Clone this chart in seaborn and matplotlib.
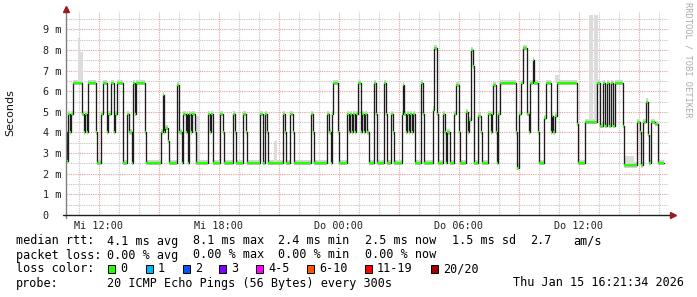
import numpy as np
import pandas as pd
import matplotlib
matplotlib.use("Agg")
import matplotlib.pyplot as plt
import seaborn as sns
from matplotlib.patches import Rectangle
from matplotlib.ticker import FixedLocator, MultipleLocator, FuncFormatter

# ---- data (hours since Wed 00:00, median RTT in ms) ----
seg_start_h = [10.35, 10.40, 10.45, 10.55, 10.60, 10.70, 11.15, 11.25, 11.30, 11.40,
               11.45, 11.85, 11.90, 12.10, 12.20, 12.40, 12.45, 12.60, 12.75, 12.80,
               12.90, 13.20, 13.40, 13.50, 13.65, 13.70, 13.80, 13.85, 14.30, 14.35,
               15.10, 15.20, 15.25, 15.30, 15.45, 15.50, 15.90, 16.00, 16.15, 16.20,
               16.35, 16.40, 16.45, 16.50, 16.60, 16.65, 16.80, 16.85, 17.45, 17.55,
               17.60, 17.70, 18.05, 18.20, 18.25, 18.70, 18.80, 18.85, 19.20, 19.35,
               19.40, 20.05, 20.20, 20.30, 20.40, 20.45, 21.20, 21.30, 21.35, 21.55,
               21.70, 21.75, 22.60, 22.70, 22.75, 23.40, 23.50, 23.60, 23.65, 23.70,
               23.95, 24.00, 24.40, 24.50, 24.55, 24.65, 24.70, 24.80, 24.85, 24.95,
               25.10, 25.15, 25.25, 25.30, 25.40, 25.50, 25.75, 25.85, 25.90, 26.25,
               26.35, 26.40, 26.60, 26.70, 26.75, 27.15, 27.20, 27.25, 27.35, 27.40,
               27.50, 27.55, 27.65, 27.70, 27.80, 28.10, 28.20, 28.25, 28.70, 28.75,
               28.90, 28.95, 29.20, 29.30, 29.35, 29.40, 29.55, 29.75, 29.85, 30.00,
               30.05, 30.35, 30.45, 30.50, 30.60, 30.70, 30.75, 30.95, 31.10, 31.15,
               31.45, 31.60, 31.65, 31.70, 31.85, 31.90, 31.95, 32.05, 32.85, 32.90,
               33.00, 33.10, 33.20, 33.40, 33.50, 33.55, 33.70, 33.75, 33.95, 34.00,
               34.25, 34.35, 34.60, 34.65, 34.70, 34.80, 34.90, 35.90, 35.95, 36.30,
               36.90, 37.05, 37.20, 37.30, 37.40, 37.50, 37.60, 37.70, 37.80, 38.20,
               38.25, 38.90, 39.05, 39.10, 39.20, 39.35, 39.45, 39.50, 39.60, 39.80,
               39.95]
seg_median_ms = [4.0, 2.6, 4.9, 4.0, 4.9, 6.4, 4.9, 4.0, 4.9, 4.0,
                 6.4, 4.0, 2.5, 4.9, 6.4, 4.0, 4.9, 6.4, 4.0, 4.9,
                 6.4, 2.5, 4.9, 4.0, 2.5, 6.4, 4.9, 6.4, 4.0, 2.5,
                 4.0, 5.8, 4.0, 4.2, 3.6, 2.5, 6.3, 4.0, 2.5, 4.9,
                 4.0, 4.9, 2.5, 4.9, 4.0, 4.9, 4.0, 2.5, 4.9, 4.0,
                 4.9, 2.5, 4.9, 4.0, 2.5, 4.9, 4.0, 2.5, 4.9, 4.0,
                 2.5, 4.9, 2.5, 4.9, 4.0, 2.5, 4.9, 4.0, 2.5, 4.9,
                 4.0, 2.5, 4.9, 4.0, 2.5, 4.9, 4.0, 2.5, 4.9, 6.4,
                 4.0, 2.5, 4.9, 4.0, 4.9, 4.0, 4.9, 4.0, 4.9, 6.4,
                 4.0, 4.9, 4.0, 4.9, 4.0, 2.5, 6.4, 4.9, 2.5, 6.4,
                 4.9, 2.5, 4.9, 4.0, 2.5, 4.9, 6.3, 4.9, 4.0, 4.9,
                 4.0, 4.9, 4.0, 4.9, 2.5, 6.4, 4.9, 2.5, 5.1, 8.1,
                 4.9, 2.5, 4.9, 4.0, 2.5, 4.0, 2.5, 4.9, 6.3, 4.0,
                 2.5, 5.0, 4.0, 4.6, 8.0, 7.2, 2.5, 4.8, 4.0, 2.5,
                 4.9, 4.0, 4.9, 6.3, 4.0, 2.5, 4.9, 6.4, 4.0, 2.3,
                 4.9, 6.4, 8.1, 4.9, 4.0, 6.4, 7.5, 6.4, 4.0, 2.5,
                 4.7, 6.4, 4.0, 4.8, 4.0, 4.8, 6.4, 4.4, 2.5, 4.5,
                 6.4, 4.3, 6.4, 4.3, 6.4, 4.3, 6.4, 4.3, 6.4, 4.3,
                 2.4, 4.5, 4.0, 2.4, 4.5, 5.5, 3.9, 2.5, 4.5, 4.4,
                 2.5]
series_end_h = 40.25

smoke_spike_start = [10.95, 11.07, 16.85, 20.75, 34.80, 36.50, 36.75, 38.25]
smoke_spike_end = [11.07, 11.20, 17.00, 20.90, 35.00, 36.70, 36.95, 38.75]
smoke_spike_top = [8.6, 7.9, 4.8, 3.6, 6.8, 9.7, 9.7, 2.85]
smoke_spike_base = [6.4, 6.4, 2.5, 2.5, 6.4, 4.5, 4.5, 2.4]

tick_hours = [12, 18, 24, 30, 36]
tick_labels = ["Mi 12:00", "Mi 18:00", "Do 00:00", "Do 06:00", "Do 12:00"]
ytick_vals = [0, 1, 2, 3, 4, 5, 6, 7, 8, 9]
ytick_labels = ["0", "1 m", "2 m", "3 m", "4 m", "5 m", "6 m", "7 m", "8 m", "9 m"]

rtt_labels = ["4.1 ms avg", "8.1 ms max", "2.4 ms min", "2.5 ms now", "1.5 ms sd", "2.7", "am/s"]
loss_labels = ["0.00 % avg", "0.00 % max", "0.00 % min", "0.00 % now"]
loss_color_names = ["0", "1", "2", "3", "4-5", "6-10", "11-19", "20/20"]
loss_color_values = ["#26ff00", "#00b8ff", "#0059ff", "#7e00ff", "#ff00ff", "#ff5500", "#ff0000", "#a10000"]
probe_text = "20 ICMP Echo Pings (56 Bytes) every 300s"
stamp_text = "Thu Jan 15 16:21:34 2026"

# ---- figure ----
sns.set_theme(style="white")
plt.rcParams['font.family'] = ['DejaVu Sans Mono']
W, H = 697, 297
fig = plt.figure(figsize=(W / 100, H / 100), dpi=100)
fig.patch.set_facecolor('white')
ax = fig.add_axes([66 / W, (H - 215) / H, 602 / W, 203 / H])
ax.set_facecolor('white')
ax.set_xlim(10.35, 40.45)
ax.set_ylim(0, 9.84)

df = pd.DataFrame({"t": seg_start_h + [series_end_h],
                   "rtt": seg_median_ms + [seg_median_ms[-1]]})

# smoke
ax.fill_between(df["t"], df["rtt"] - 0.1, df["rtt"] + 0.16, step='post',
                color='#d4d4d4', lw=0, zorder=1)
for s, e, top, base in zip(smoke_spike_start, smoke_spike_end, smoke_spike_top, smoke_spike_base):
    ax.fill_between([s, e], [base, base], [top, top], color='#dcdcdc', lw=0, zorder=1)

# median step line
sns.lineplot(data=df, x="t", y="rtt", drawstyle='steps-post', estimator=None,
             color='#1c1c1c', lw=0.95, ax=ax, legend=False, zorder=2)
# loss-colored median segments
ax.hlines(seg_median_ms, seg_start_h, seg_start_h[1:] + [series_end_h],
          colors=loss_color_values[0], lw=1.6, zorder=3)

# grid
label_map = dict(zip(tick_hours, tick_labels))
ax.xaxis.set_major_locator(FixedLocator(np.arange(12, 40.5, 3)))
ax.xaxis.set_minor_locator(MultipleLocator(1))
ax.xaxis.set_major_formatter(FuncFormatter(lambda v, p: label_map.get(int(round(v)), "")))
ax.set_yticks(ytick_vals)
ax.set_yticklabels(ytick_labels, ha='left')
ax.yaxis.set_minor_locator(MultipleLocator(0.5))
ax.grid(which='major', color='#e8a0a0', ls=(0, (1, 1)), lw=0.8)
ax.grid(which='minor', color='#c4c4c4', ls=(0, (1, 1)), lw=0.8)
ax.set_axisbelow(True)
ax.tick_params(axis='both', which='both', length=0)
ax.tick_params(axis='x', pad=4.5, labelsize=7.3, colors='#222222')
ax.tick_params(axis='y', pad=16.8, labelsize=7.3, colors='#222222')
ax.set_xlabel('')
ax.set_ylabel('')
for sp in ax.spines.values():
    sp.set_visible(False)

# axes with arrows
ax.plot([10.35, 10.35], [-0.15, 9.92], color='#808080', lw=1, clip_on=False, zorder=4)
ax.plot([10.2, 40.65], [0, 0], color='#202020', lw=1, clip_on=False, zorder=4)
ax.plot([10.35], [9.98], marker='^', ms=4, color='#9b1c1c', clip_on=False, zorder=5)
ax.plot([40.7], [0], marker='>', ms=4, color='#9b1c1c', clip_on=False, zorder=5)

# labels
fig.text(10 / W, 1 - 113 / H, 'Seconds', rotation=90, ha='center', va='center',
         family='DejaVu Sans', size=8, color='#111111')
fig.text(688 / W, 1 - 60 / H, 'RRDTOOL / TOBI OETIKER', rotation=270, ha='center', va='center',
         size=6.3, color='#aaaaaa')

def t(x, y, s):
    fig.text(x / W, 1 - y / H, s, ha='left', va='center', size=8.5, color='#000000')

t(16, 241, "median rtt:")
for x, s in zip([107, 193, 278, 365, 452, 530, 573], rtt_labels):
    t(x, 241, s)
t(16, 255, "packet loss:")
for x, s in zip([107, 193, 278, 365], loss_labels):
    t(x, 255, s)
t(16, 269, "loss color:")
sq_x = [108, 146, 183, 219, 256, 307, 365, 431]
for x, name, col in zip(sq_x, loss_color_names, loss_color_values):
    fig.add_artist(Rectangle((x / W, 1 - 273 / H), 7 / W, 8 / H, transform=fig.transFigure,
                             facecolor=col, edgecolor='#000000', lw=0.7))
    t(x + 12, 269, name)
t(16, 283, "probe:")
t(107, 283, probe_text)
t(513, 283, stamp_text)

fig.savefig("out.png", dpi=100, facecolor='white')
